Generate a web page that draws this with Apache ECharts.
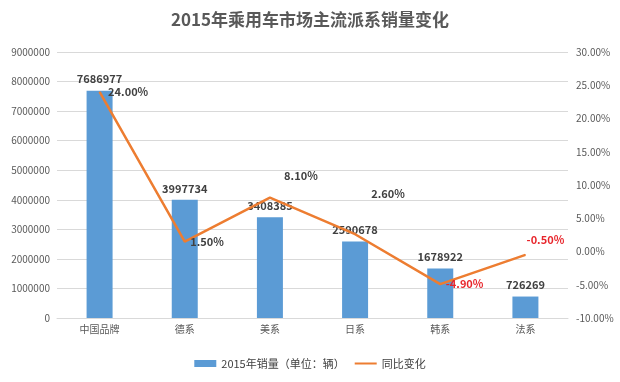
<!DOCTYPE html>
<html><head><meta charset="utf-8">
<script src="https://cdn.jsdelivr.net/npm/echarts@6/dist/echarts.min.js"></script>
<style>html,body{margin:0;padding:0;background:#fff}#c{width:620px;height:382px}</style>
</head><body><div id="c"></div>
<script>
var categories = ['中国品牌','德系','美系','日系','韩系','法系'];
var sales = [7686977, 3997734, 3408385, 2590678, 1678922, 726269];
var growth = [24.0, 1.5, 8.1, 2.6, -4.9, -0.5];
var leftTicks = [0, 9000000, 1000000];
var rightTicks = [-10, 30, 5];

var font = '"Microsoft YaHei","Noto Sans CJK SC","DejaVu Sans",sans-serif';
var lineLabelCfg = [
  {position:'right', offset:[3,0]},
  {position:'right', offset:[0,0]},
  {position:'top', offset:[31,-11]},
  {position:'top', offset:[33,-29]},
  {position:'right', offset:[0,0]},
  {position:'top', offset:[20,-4]}
];
var lineData = growth.map(function(v,i){
  return {value:v, label:{position:lineLabelCfg[i].position, offset:lineLabelCfg[i].offset,
    color: v<0 ? '#E8262C' : '#404040'}};
});
var chart = echarts.init(document.getElementById('c'));
chart.setOption({
  animation:false,
  title:{text:'2015年乘用车市场主流派系销量变化', left:'center', top:6,
    textStyle:{fontSize:17, fontWeight:'bold', color:'#595959', fontFamily:font}},
  grid:{left:57, right:52, top:52, bottom:64},
  legend:{bottom:8, left:'center', itemWidth:22, itemHeight:7, itemGap:10,
    textStyle:{fontSize:11, color:'#404040', fontFamily:font},
    data:[{name:'2015年销量（单位：辆）', icon:'rect'}, {name:'同比变化', icon:'path://M0,0 L22,0 L22,2 L0,2 Z'}]},
  xAxis:{type:'category', data:categories,
    axisLine:{lineStyle:{color:'#D9D9D9'}}, axisTick:{show:false},
    axisLabel:{fontSize:10, color:'#595959', fontFamily:font, margin:6}},
  yAxis:[
    {type:'value', min:leftTicks[0], max:leftTicks[1], interval:leftTicks[2],
     axisLine:{show:false}, axisTick:{show:false},
     splitLine:{lineStyle:{color:'#D9D9D9'}},
     axisLabel:{fontSize:10, color:'#595959', fontFamily:font, margin:7,
       formatter:function(v){return String(v);}}},
    {type:'value', min:rightTicks[0], max:rightTicks[1], interval:rightTicks[2],
     axisLine:{show:false}, axisTick:{show:false}, splitLine:{show:false},
     axisLabel:{fontSize:10, color:'#595959', fontFamily:font, margin:8,
       formatter:function(v){return v.toFixed(2)+'%';}}}
  ],
  series:[
    {name:'2015年销量（单位：辆）', type:'bar', data:sales, barWidth:26,
     itemStyle:{color:'#5B9BD5'},
     label:{show:true, position:'top', fontSize:11, fontWeight:'bold', color:'#404040', fontFamily:font, distance:6}},
    {name:'同比变化', type:'line', yAxisIndex:1, data:lineData, symbol:'circle', symbolSize:1, showSymbol:true,
     lineStyle:{color:'#ED7D31', width:2.5}, itemStyle:{color:'#ED7D31'},
     label:{show:true, fontSize:11, fontWeight:'bold', fontFamily:font,
       formatter:function(p){return p.value.toFixed(2)+'%';}}}
  ]
});
</script></body></html>
